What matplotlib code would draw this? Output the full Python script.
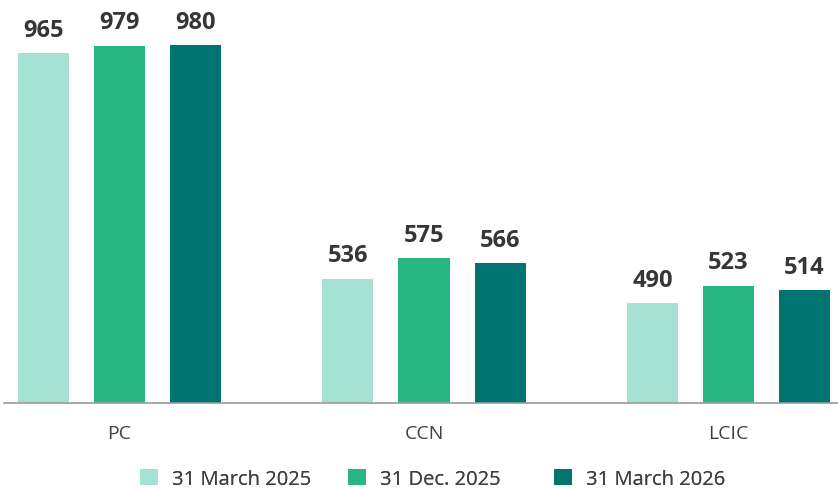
import matplotlib
matplotlib.use("Agg")
import matplotlib.pyplot as plt
import numpy as np

plt.rcParams['font.family'] = ['Open Sans', 'DejaVu Sans']

categories = ["PC", "CCN", "LCIC"]
series_names = ["31 March 2025", "31 Dec. 2025", "31 March 2026"]
values_mar2025 = [965, 536, 490]
values_dec2025 = [979, 575, 523]
values_mar2026 = [980, 566, 514]
colors = ["#A6E2D3", "#2AB585", "#007470"]

W, H = 838, 489
fig = plt.figure(figsize=(W / 100, H / 100), dpi=100)
ax = fig.add_axes([4 / W, 85 / H, (838 - 4) / W, 368.5 / H])

x = np.arange(len(categories))
offset = 0.2496
width = 0.1675
series = [values_mar2025, values_dec2025, values_mar2026]
handles = []
for i, (vals, name, col) in enumerate(zip(series, series_names, colors)):
    pos = x + (i - 1) * offset
    b = ax.bar(pos, vals, width=width, color=col, label=name, zorder=2)
    handles.append(b)
    for xp, v in zip(pos, vals):
        ax.annotate(f"{v}", (xp, v), xytext=(0, 12.5), textcoords="offset points",
                    ha="center", va="baseline", fontsize=17, fontweight="bold",
                    color="#363636", annotation_clip=False)

ax.set_ylim(300, 1000)
ax.set_xlim(-0.3793, 2.3596)
for s in ["top", "right", "left"]:
    ax.spines[s].set_visible(False)
ax.spines["bottom"].set_color("#9a9a9a")
ax.spines["bottom"].set_linewidth(1.2)
ax.set_yticks([])
ax.set_xticks(x)
ax.set_xticklabels(categories, fontsize=14, color="#404040")
ax.tick_params(axis="x", length=0, pad=15)

legend_x = [140, 348, 554]
for h, name, lx in zip(handles, series_names, legend_x):
    leg = fig.legend([h], [name], loc="center left",
                     bbox_to_anchor=(lx / W, 1 - 480 / H), frameon=False,
                     fontsize=14.5, handlelength=0.9, handleheight=0.8,
                     handletextpad=0.7, borderpad=0, borderaxespad=0,
                     labelcolor="#404040")
    fig.add_artist(leg)

fig.savefig("out.png", dpi=100)
